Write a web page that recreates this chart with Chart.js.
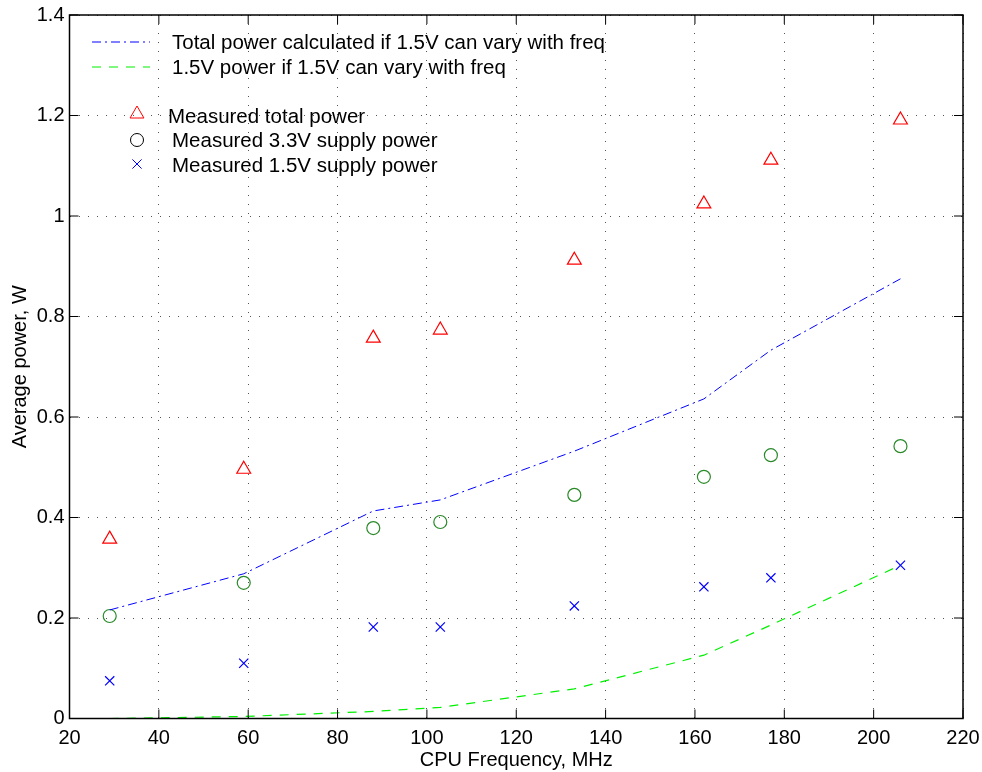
<!DOCTYPE html>
<html>
<head>
<meta charset="utf-8">
<script src="https://cdn.jsdelivr.net/npm/chart.js@4/dist/chart.umd.min.js"></script>
<style>
  html, body { margin: 0; padding: 0; background: #fff; }
  #wrap { width: 982px; height: 772px; }
</style>
</head>
<body>
<div id="wrap"><canvas id="powerChart" width="982" height="772"></canvas></div>
<script>
// datos
const freq = [29, 59, 88, 103, 133, 162, 177, 206];
const totalMeasured = [0.357, 0.496, 0.757, 0.773, 0.912, 1.024, 1.111, 1.191];
const supply33 = [0.204, 0.270, 0.379, 0.391, 0.445, 0.481, 0.524, 0.542];
const supply15 = [0.075, 0.110, 0.182, 0.182, 0.224, 0.262, 0.280, 0.305];
const totalCalc = [0.216, 0.288, 0.413, 0.435, 0.532, 0.636, 0.733, 0.875];
const power15Calc = [0.000, 0.004, 0.014, 0.022, 0.059, 0.126, 0.186, 0.305];

const xTicks = [20, 40, 60, 80, 100, 120, 140, 160, 180, 200, 220];
const yTicks = [0, 0.2, 0.4, 0.6, 0.8, 1, 1.2, 1.4];

const lineNames = ['Total power calculated if 1.5V can vary with freq', '1.5V power if 1.5V can vary with freq'];
const markerNames = ['Measured total power', 'Measured 3.3V supply power', 'Measured 1.5V supply power'];

const FONT = '"Liberation Sans", Arial, Helvetica, sans-serif';
const BLUE = '#0000ff', GREEN = '#00f000', RED = '#ff0000', DKGREEN = '#2a8a2a';

const pts = ys => freq.map((f, i) => ({x: f, y: ys[i]}));

// plugin: marco, ticks hacia dentro y leyenda
const matlabBox = {
  id: 'matlabBox',
  afterDraw(chart) {
    const ctx = chart.ctx;
    const a = chart.chartArea;
    const sx = chart.scales.x, sy = chart.scales.y;
    ctx.save();
    ctx.strokeStyle = '#000';
    ctx.lineWidth = 1.5;
    ctx.setLineDash([]);
    ctx.strokeRect(a.left, a.top, a.right - a.left, a.bottom - a.top);
    ctx.lineWidth = 1;
    const tl = 9;
    ctx.beginPath();
    xTicks.forEach(v => {
      const px = sx.getPixelForValue(v);
      ctx.moveTo(px, a.bottom); ctx.lineTo(px, a.bottom - tl);
      ctx.moveTo(px, a.top); ctx.lineTo(px, a.top + tl);
    });
    yTicks.forEach(v => {
      const py = sy.getPixelForValue(v);
      ctx.moveTo(a.left, py); ctx.lineTo(a.left + tl, py);
      ctx.moveTo(a.right, py); ctx.lineTo(a.right - tl, py);
    });
    ctx.stroke();

    // leyenda
    ctx.font = '20.5px ' + FONT;
    ctx.textBaseline = 'middle';
    ctx.fillStyle = '#000';
    ctx.lineWidth = 1;
    ctx.strokeStyle = BLUE;
    ctx.setLineDash([9, 4, 2, 4]);
    ctx.beginPath(); ctx.moveTo(92, 42); ctx.lineTo(150, 42); ctx.stroke();
    ctx.strokeStyle = GREEN;
    ctx.setLineDash([9, 8]);
    ctx.beginPath(); ctx.moveTo(92, 67); ctx.lineTo(150, 67); ctx.stroke();
    ctx.setLineDash([]);
    ctx.fillText(lineNames[0], 172, 43);
    ctx.fillText(lineNames[1], 172, 68);

    const h = Chart.helpers;
    ctx.strokeStyle = RED; ctx.fillStyle = 'rgba(0,0,0,0)';
    h.drawPoint(ctx, {pointStyle: 'triangle', radius: 8, borderWidth: 1.2, rotation: 0}, 137, 114);
    ctx.strokeStyle = '#000';
    h.drawPoint(ctx, {pointStyle: 'circle', radius: 6.5, borderWidth: 1.2, rotation: 0}, 137, 140);
    ctx.strokeStyle = BLUE;
    h.drawPoint(ctx, {pointStyle: 'crossRot', radius: 6.5, borderWidth: 1.2, rotation: 0}, 137, 164);
    ctx.fillStyle = '#000';
    ctx.fillText(markerNames[0], 168, 117);
    ctx.fillText(markerNames[1], 172, 141);
    ctx.fillText(markerNames[2], 172, 166);
    ctx.restore();
  }
};

const config = {
  type: 'scatter',
  data: {
    datasets: [
      { label: lineNames[0], data: pts(totalCalc), showLine: true, borderColor: BLUE, borderWidth: 1,
        borderDash: [9, 4, 2, 4], pointRadius: 0, fill: false },
      { label: lineNames[1], data: pts(power15Calc), showLine: true, borderColor: GREEN, borderWidth: 1.2,
        borderDash: [9, 8], pointRadius: 0, fill: false },
      { label: markerNames[0], data: pts(totalMeasured), pointStyle: 'triangle', pointRadius: 8,
        borderColor: RED, backgroundColor: 'rgba(0,0,0,0)', pointBorderWidth: 1.2 },
      { label: markerNames[1], data: pts(supply33), pointStyle: 'circle', pointRadius: 6.5,
        borderColor: DKGREEN, backgroundColor: 'rgba(0,0,0,0)', pointBorderWidth: 1.2 },
      { label: markerNames[2], data: pts(supply15), pointStyle: 'crossRot', pointRadius: 6.5,
        borderColor: BLUE, backgroundColor: 'rgba(0,0,0,0)', pointBorderWidth: 1.2 }
    ]
  },
  options: {
    responsive: false,
    animation: false,
    events: [],
    layout: { padding: { left: 0, right: 19, top: 15, bottom: 0 } },
    plugins: { legend: { display: false }, tooltip: { enabled: false } },
    scales: {
      x: {
        type: 'linear', min: 20, max: 220,
        afterBuildTicks: s => { s.ticks = xTicks.map(v => ({value: v})); },
        afterFit: s => { s.height = 53.5; s.paddingLeft = 0; s.paddingRight = 0; },
        grid: { color: '#555', lineWidth: 1, drawTicks: false },
        border: { display: false, dash: [1, 8] },
        ticks: { padding: 8, color: '#000', font: { family: FONT, size: 20 }, maxRotation: 0 },
        title: { display: true, text: 'CPU Frequency, MHz', color: '#000', padding: 0,
                 font: { family: FONT, size: 20 } }
      },
      y: {
        type: 'linear', min: 0, max: 1.4,
        afterBuildTicks: s => { s.ticks = yTicks.map(v => ({value: v})); },
        afterFit: s => { s.width = 69.5; s.paddingTop = 0; s.paddingBottom = 0; },
        grid: { color: '#555', lineWidth: 1, drawTicks: false },
        border: { display: false, dash: [1, 8] },
        ticks: { padding: 5, color: '#000', font: { family: FONT, size: 20 },
                 callback: v => String(Math.round(v * 10) / 10) },
        title: { display: true, text: 'Average power, W', color: '#000', padding: { top: 8, bottom: 0 },
                 font: { family: FONT, size: 20 } }
      }
    }
  },
  plugins: [matlabBox]
};

const powerChart = new Chart(document.querySelector('#powerChart'), config);
</script>
</body>
</html>
